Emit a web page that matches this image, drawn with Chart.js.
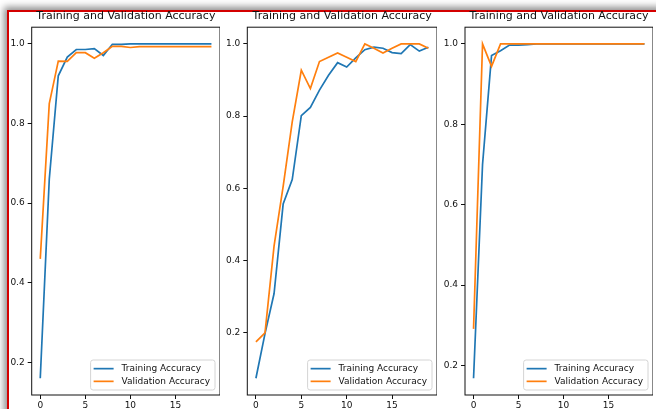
<!DOCTYPE html>
<html>
<head>
<meta charset="utf-8">
<script src="https://cdn.jsdelivr.net/npm/chart.js@4.4.1/dist/chart.umd.min.js"></script>
<style>
    body { margin: 0; width: 656px; height: 409px; overflow: hidden; position: relative; background: #fff; }
    #frame { position: absolute; left: 7px; top: 10px; width: 720px; height: 480px; background: #fff;
             border-left: 2px solid #d40000; border-top: 2px solid #d40000;
             box-shadow: -3px -3px 7px rgba(0,0,0,0.45); }
    canvas { position: absolute; top: 0; }
</style>
</head>
<body>
<div id="frame"></div>
<canvas id="acc-1" width="211" height="409" style="left:9px"></canvas>
<canvas id="acc-2" width="213" height="409" style="left:224px"></canvas>
<canvas id="acc-3" width="211" height="409" style="left:442px"></canvas>
<script>
/* ============================================
   Training / validation accuracy, three runs
   ============================================ */
const epochs = [0, 1, 2, 3, 4, 5, 6, 7, 8, 9, 10, 11, 12, 13, 14, 15, 16, 17, 18, 19];
const xTicks = [0, 5, 10, 15];
const yTicks = [0.2, 0.4, 0.6, 0.8, 1.0];

const run1Train = [0.16, 0.66, 0.92, 0.967, 0.986, 0.986, 0.988, 0.971, 0.999, 0.999, 1.0, 1.0, 1.0, 1.0, 1.0, 1.0, 1.0, 1.0, 1.0, 1.0];
const run1Val   = [0.46, 0.85, 0.957, 0.956, 0.978, 0.978, 0.964, 0.978, 0.994, 0.994, 0.991, 0.993, 0.993, 0.993, 0.993, 0.993, 0.993, 0.993, 0.993, 0.993];

const run2Train = [0.073, 0.197, 0.308, 0.556, 0.624, 0.801, 0.824, 0.872, 0.913, 0.948, 0.936, 0.961, 0.984, 0.991, 0.988, 0.976, 0.973, 0.998, 0.980, 0.991];
const run2Val   = [0.174, 0.199, 0.44, 0.605, 0.784, 0.927, 0.876, 0.951, 0.963, 0.975, 0.963, 0.951, 1.0, 0.988, 0.975, 0.988, 1.0, 1.0, 1.0, 0.988];

const run3Train = [0.168, 0.70, 0.971, 0.983, 0.997, 0.997, 0.998, 1.0, 1.0, 1.0, 1.0, 1.0, 1.0, 1.0, 1.0, 1.0, 1.0, 1.0, 1.0, 1.0];
const run3Val   = [0.291, 1.0, 0.944, 1.0, 1.0, 1.0, 1.0, 1.0, 1.0, 1.0, 1.0, 1.0, 1.0, 1.0, 1.0, 1.0, 1.0, 1.0, 1.0, 1.0];

const TITLE = 'Training and Validation Accuracy';
const BLUE = '#1f77b4';
const ORANGE = '#ff7f0e';
const FONT = '"DejaVu Sans", sans-serif';
const INK = '#111';
const LINE_W = 1.7;

// full box around the plot area, like matplotlib spines
const spines = {
    id: 'spines',
    afterDatasetsDraw(chart) {
        const { ctx, chartArea: a } = chart;
        ctx.save();
        ctx.strokeStyle = INK;
        ctx.lineWidth = 1;
        ctx.strokeRect(a.left, a.top, a.right - a.left, a.bottom - a.top);
        ctx.restore();
    }
};

// legend box in the lower right corner of the plot area
const boxLegend = {
    id: 'boxLegend',
    afterDraw(chart) {
        const { ctx, chartArea: a } = chart;
        const sets = chart.data.datasets;
        ctx.save();
        ctx.font = '9px ' + FONT;
        const textW = Math.max(...sets.map(d => ctx.measureText(d.label).width));
        const rowH = 12.7;
        const w = 31 + textW + 5, h = rowH * sets.length + 4.6;
        const x = a.right - 5 - w, y = a.bottom - 5 - h;
        ctx.beginPath();
        ctx.roundRect(x, y, w, h, 2.5);
        ctx.fillStyle = 'rgba(255,255,255,0.8)';
        ctx.fill();
        ctx.strokeStyle = '#d4d4d4';
        ctx.lineWidth = 1;
        ctx.stroke();
        sets.forEach((d, i) => {
            const cy = y + 2.3 + rowH * (i + 0.5);
            ctx.strokeStyle = d.borderColor;
            ctx.lineWidth = LINE_W;
            ctx.beginPath();
            ctx.moveTo(x + 3, cy);
            ctx.lineTo(x + 23, cy);
            ctx.stroke();
            ctx.fillStyle = INK;
            ctx.textBaseline = 'middle';
            ctx.fillText(d.label, x + 31, cy);
        });
        ctx.restore();
    }
};

function axisStyle() {
    return {
        grid: { display: true, drawOnChartArea: false, drawTicks: true, tickLength: 4, tickColor: INK, lineWidth: 1 },
        border: { display: false },
        ticks: { color: INK, font: { family: FONT, size: 9 }, autoSkip: false, maxRotation: 0 }
    };
}

function makeChart(id, train, val, yAxisWidth) {
    const all = train.concat(val);
    const lo = Math.min(...all), hi = Math.max(...all);
    const ym = (hi - lo) * 0.05;
    const xm = (epochs[epochs.length - 1] - epochs[0]) * 0.05;
    const pts = arr => arr.map((v, i) => ({ x: epochs[i], y: v }));

    const x = axisStyle();
    Object.assign(x, {
        type: 'linear', min: epochs[0] - xm, max: epochs[epochs.length - 1] + xm,
        afterBuildTicks: s => { s.ticks = xTicks.map(v => ({ value: v })); },
        afterFit: s => { s.height = 14; }
    });
    x.ticks.padding = 1.5;
    x.ticks.callback = v => String(v);

    const y = axisStyle();
    Object.assign(y, {
        type: 'linear', min: lo - ym, max: hi + ym,
        afterBuildTicks: s => { s.ticks = yTicks.map(v => ({ value: v })); },
        afterFit: s => { s.width = yAxisWidth; }
    });
    y.ticks.padding = 3;
    y.ticks.callback = v => v.toFixed(1);

    return new Chart(document.getElementById(id), {
        type: 'line',
        data: {
            datasets: [
                { label: 'Training Accuracy', data: pts(train), borderColor: BLUE, backgroundColor: BLUE, order: 1 },
                { label: 'Validation Accuracy', data: pts(val), borderColor: ORANGE, backgroundColor: ORANGE, order: 0 }
            ]
        },
        options: {
            responsive: false, animation: false, devicePixelRatio: 1,
            layout: { padding: 0 },
            elements: { point: { radius: 0 }, line: { borderWidth: LINE_W, tension: 0 } },
            plugins: {
                legend: { display: false },
                tooltip: { enabled: false },
                title: {
                    display: true, text: TITLE, fullSize: false, color: INK,
                    font: { family: FONT, size: 11, weight: 'normal' },
                    padding: { top: 10, bottom: 4 }
                }
            },
            scales: { x, y }
        },
        plugins: [spines, boxLegend]
    });
}

makeChart('acc-1', run1Train, run1Val, 22.7);
makeChart('acc-2', run2Train, run2Val, 23.3);
makeChart('acc-3', run3Train, run3Val, 23);
</script>
</body>
</html>
